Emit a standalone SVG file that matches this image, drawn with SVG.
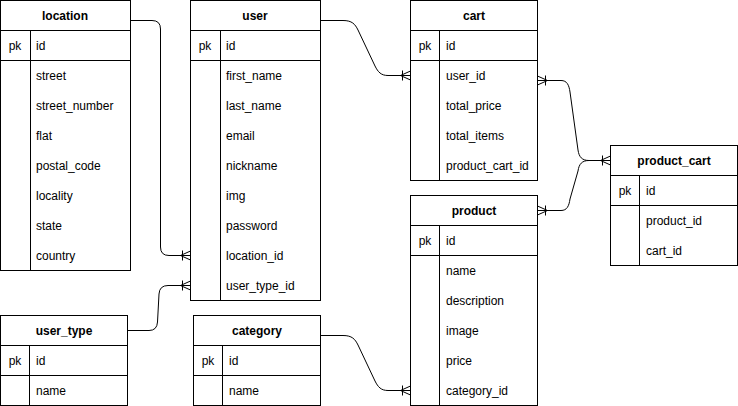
<svg xmlns="http://www.w3.org/2000/svg" width="738" height="406" viewBox="0 0 738 406">
<style>
.box{fill:#fff;stroke:#000;stroke-width:1}
.ln{fill:none;stroke:#000;stroke-width:1}
text{font-family:"Liberation Sans",Arial,sans-serif;font-size:12px;fill:#000}
.h{font-weight:bold;text-anchor:middle}
.pk{text-anchor:middle}
.edge{fill:none;stroke:#000;stroke-width:1}
</style>
<defs>
<path id="crowL" d="M-10,0 L0,-4.5 M-10,0 L0,4.5 M-10,0 L0,0 M-8,-5 L-8,5" fill="none" stroke="#000" stroke-width="1"/>
<path id="crowR" d="M10,0 L0,-4.5 M10,0 L0,4.5 M10,0 L0,0 M8,-5 L8,5" fill="none" stroke="#000" stroke-width="1"/>
</defs>
<rect width="738" height="406" fill="#fff"/>
<g id="connectors">
<path class="edge" d="M130.5,20.5 H152 Q160.5,20.5 160.5,29 V247 Q160.5,255.5 169,255.5 H190"/>
<path class="edge" d="M127.5,330.5 H149 Q157,330.5 157.5,322 L159,294 Q159.5,285.5 168,285.5 H190"/>
<path class="edge" d="M320.5,20.5 H343 C352,20.5 355,24 358,30 L375,66 C378,72 381,75.5 388,75.5 H410"/>
<path class="edge" d="M320.5,335.5 H343 C352,335.5 355,339 358,345 L375,381 C378,387 381,390.5 388,390.5 H410"/>
<path class="edge" d="M537.5,80.5 H561 C567,80.5 569,85 570,92 L578,150 C579,157 582,160.5 589,160.5 H610"/>
<path class="edge" d="M537.5,210.5 H561 C567,210.5 569,206 570,199 L578,171 C579,164 582,160.5 589,160.5"/>
<use href="#crowL" x="190.5" y="255.5"/>
<use href="#crowL" x="190.5" y="285.5"/>
<use href="#crowL" x="410.5" y="75.5"/>
<use href="#crowL" x="410.5" y="390.5"/>
<use href="#crowL" x="610.5" y="160.5"/>
<use href="#crowR" x="537.5" y="80.5"/>
<use href="#crowR" x="537.5" y="210.5"/>
</g>
<g id="location">
<rect class="box" x="0.5" y="0.5" width="130" height="270"/>
<path class="ln" d="M0.5,30.5 H130.5 M0.5,60.5 H130.5 M30.5,30.5 V270.5"/>
<text class="h" x="65" y="20">location</text>
<text class="pk" x="15" y="50">pk</text>
<text x="36" y="50">id</text>
<text x="36" y="80">street</text>
<text x="36" y="110">street_number</text>
<text x="36" y="140">flat</text>
<text x="36" y="170">postal_code</text>
<text x="36" y="200">locality</text>
<text x="36" y="230">state</text>
<text x="36" y="260">country</text>
</g>
<g id="user">
<rect class="box" x="190.5" y="0.5" width="130" height="300"/>
<path class="ln" d="M190.5,30.5 H320.5 M190.5,60.5 H320.5 M220.5,30.5 V300.5"/>
<text class="h" x="255" y="20">user</text>
<text class="pk" x="205" y="50">pk</text>
<text x="226" y="50">id</text>
<text x="226" y="80">first_name</text>
<text x="226" y="110">last_name</text>
<text x="226" y="140">email</text>
<text x="226" y="170">nickname</text>
<text x="226" y="200">img</text>
<text x="226" y="230">password</text>
<text x="226" y="260">location_id</text>
<text x="226" y="290">user_type_id</text>
</g>
<g id="cart">
<rect class="box" x="410.5" y="0.5" width="127" height="180"/>
<path class="ln" d="M410.5,30.5 H537.5 M410.5,60.5 H537.5 M439.5,30.5 V180.5"/>
<text class="h" x="474" y="20">cart</text>
<text class="pk" x="425" y="50">pk</text>
<text x="446" y="50">id</text>
<text x="446" y="80">user_id</text>
<text x="446" y="110">total_price</text>
<text x="446" y="140">total_items</text>
<text x="446" y="170">product_cart_id</text>
</g>
<g id="product">
<rect class="box" x="410.5" y="195.5" width="127" height="210"/>
<path class="ln" d="M410.5,225.5 H537.5 M410.5,255.5 H537.5 M439.5,225.5 V405.5"/>
<text class="h" x="474" y="215">product</text>
<text class="pk" x="425" y="245">pk</text>
<text x="446" y="245">id</text>
<text x="446" y="275">name</text>
<text x="446" y="305">description</text>
<text x="446" y="335">image</text>
<text x="446" y="365">price</text>
<text x="446" y="395">category_id</text>
</g>
<g id="product_cart">
<rect class="box" x="610.5" y="145.5" width="127" height="120"/>
<path class="ln" d="M610.5,175.5 H737.5 M610.5,205.5 H737.5 M639.5,175.5 V265.5"/>
<text class="h" x="674" y="165">product_cart</text>
<text class="pk" x="625" y="195">pk</text>
<text x="646" y="195">id</text>
<text x="646" y="225">product_id</text>
<text x="646" y="255">cart_id</text>
</g>
<g id="user_type">
<rect class="box" x="0.5" y="315.5" width="127" height="90"/>
<path class="ln" d="M0.5,345.5 H127.5 M0.5,375.5 H127.5 M29.5,345.5 V405.5"/>
<text class="h" x="64" y="335">user_type</text>
<text class="pk" x="15" y="365">pk</text>
<text x="36" y="365">id</text>
<text x="36" y="395">name</text>
</g>
<g id="category">
<rect class="box" x="193.5" y="315.5" width="127" height="90"/>
<path class="ln" d="M193.5,345.5 H320.5 M193.5,375.5 H320.5 M222.5,345.5 V405.5"/>
<text class="h" x="257" y="335">category</text>
<text class="pk" x="208" y="365">pk</text>
<text x="229" y="365">id</text>
<text x="229" y="395">name</text>
</g>
</svg>
